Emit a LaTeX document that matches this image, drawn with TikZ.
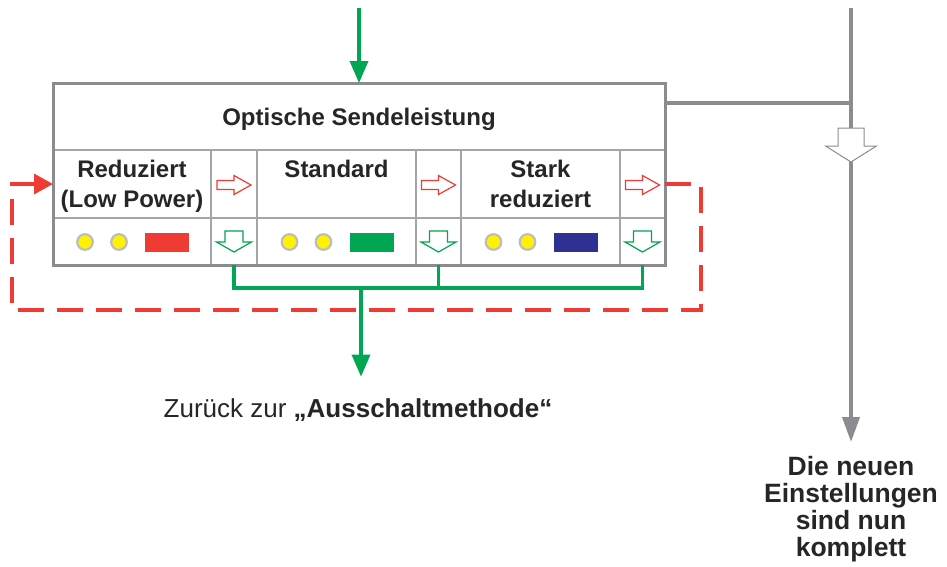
\documentclass[tikz,border=0pt]{standalone}
\usepackage{fontspec}
\setmainfont{Liberation Sans}
\usetikzlibrary{arrows.meta, positioning}
\definecolor{sigred}{HTML}{EE3B33}
\definecolor{siggreen}{HTML}{00A651}
\definecolor{sigblue}{HTML}{2E3192}
\definecolor{sigyellow}{HTML}{FFF200}
\definecolor{framegray}{HTML}{8A8C8F}
\definecolor{cellgray}{HTML}{A3A5A8}
\definecolor{ringgray}{HTML}{BDBDBD}

\tikzset{
  pushright/.pic={
    \draw[sigred, line width=1.2pt, fill=white]
      (-17,-4.5) -- (0,-4.5) -- (0,-9.5) -- (17,0) -- (0,9.5) -- (0,4.5) -- (-17,4.5) -- cycle;
  },
  pushdown/.pic={
    \draw[siggreen, line width=1.2pt, fill=white]
      (-9,-10.5) -- (9,-10.5) -- (9,0.5) -- (17.5,0.5) -- (0,10.5) -- (-17.5,0.5) -- (-9,0.5) -- cycle;
  },
  pushdownbig/.pic={
    \draw[framegray, line width=1pt, fill=white]
      (-13,0) -- (13,0) -- (13,18) -- (25.5,18) -- (0,34) -- (-25.5,18) -- (-13,18) -- cycle;
  }
}

\begin{document}
\begin{tikzpicture}[x=1pt, y=-1pt,
  cell/.style={draw=cellgray, line width=1.5pt, inner sep=0pt, outer sep=0pt},
  lbl/.style={font=\fontsize{24}{30}\selectfont\bfseries, align=center, inner sep=0pt, text=black!85},
  gline/.style={siggreen, line width=3.5pt},
  garrow/.style={gline, -{Triangle[length=22pt, width=18pt]}},
  gryline/.style={framegray, line width=4pt},
  led/.style={draw=ringgray, line width=2.2pt, fill=sigyellow}]
  \useasboundingbox (0,0) rectangle (947,566);
  % Header cell
  \node[cell, minimum width=612pt, minimum height=67pt, text height=17pt, text depth=0pt,
        font=\fontsize{24}{28}\selectfont\bfseries, text=black!85] (head) at (359,116.5)
        {Optische Sendeleistung};
  % Mode and arrow cells
  \foreach \name/\cx/\w in {c1/132/158, a1/234/46, c2/336.5/159, a2/438.5/45, c3/540.5/159, a3/642.5/45}{
    \node[cell, minimum width=\w pt, minimum height=68pt] (\name) at (\cx,184) {};
    \node[cell, minimum width=\w pt, minimum height=47pt] (\name-l) at (\cx,241.5) {};
  }
  \draw[framegray, line width=3pt] (head.north west) rectangle (a3-l.south east);
  % Labels
  \node[lbl, anchor=north] (t1) at (132,160) {Reduziert\\(Low Power)};
  \node[lbl, anchor=north] (t2) at (336.5,160) {Standard};
  \node[lbl, anchor=north] (t3) at (540.5,160) {Stark\\reduziert};
  % LEDs
  \foreach \cx/\col in {132/sigred, 336.5/siggreen, 540.5/sigblue}{
    \draw[led] (\cx-47,242) circle[radius=7.8];
    \draw[led] (\cx-13,242) circle[radius=7.8];
    \fill[\col] (\cx+13,233) rectangle (\cx+57,252);
  }
  % Hollow arrows
  \foreach \name in {a1,a2,a3}{
    \pic at ([yshift=-1pt]\name.center) {pushright};
    \pic at (\name-l.center) {pushdown};
  }
  % Input from above
  \coordinate (intop) at (359,8);
  \draw[garrow] (intop) -- (head.north);
  % Return to switch-off method
  \coordinate (gjoin) at (361,288);
  \node[font=\fontsize{26}{30}\selectfont, text=black!85, anchor=base] (back) at (358,417)
    {Zurück zur \textbf{„Ausschaltmethode“}};
  \draw[gline] (a1-l.south) |- (a3-l.south |- gjoin) -- (a3-l.south);
  \draw[gline] (a2-l.south) -- (a2-l.south |- gjoin);
  \draw[garrow, shorten >=18pt] (gjoin) -- (gjoin |- back.north);
  % Loop back (dashed)
  \coordinate (loopR) at (701,310);
  \coordinate (loopL) at (12,310);
  \draw[sigred, line width=3.5pt, dash pattern=on 26pt off 13pt,
        -{Triangle[length=19pt, width=20pt]}]
    (a3.east) -| (loopR) -- (loopL) |- (c1.west);
  % Settings complete
  \coordinate (gtop) at (851,8);
  \coordinate (gjoin2) at (851,103);
  \node[lbl, font=\fontsize{26.5}{27}\selectfont\bfseries, anchor=north] (done) at (851,456)
    {Die neuen\\Einstellungen\\sind nun\\komplett};
  \draw[gryline] (gjoin2 -| head.east) -- (gjoin2);
  \draw[gryline, -{Triangle[length=25pt, width=17pt]}, shorten >=14pt] (gtop) -- (gtop |- done.north);
  \pic at (851,128) {pushdownbig};
\end{tikzpicture}
\end{document}
